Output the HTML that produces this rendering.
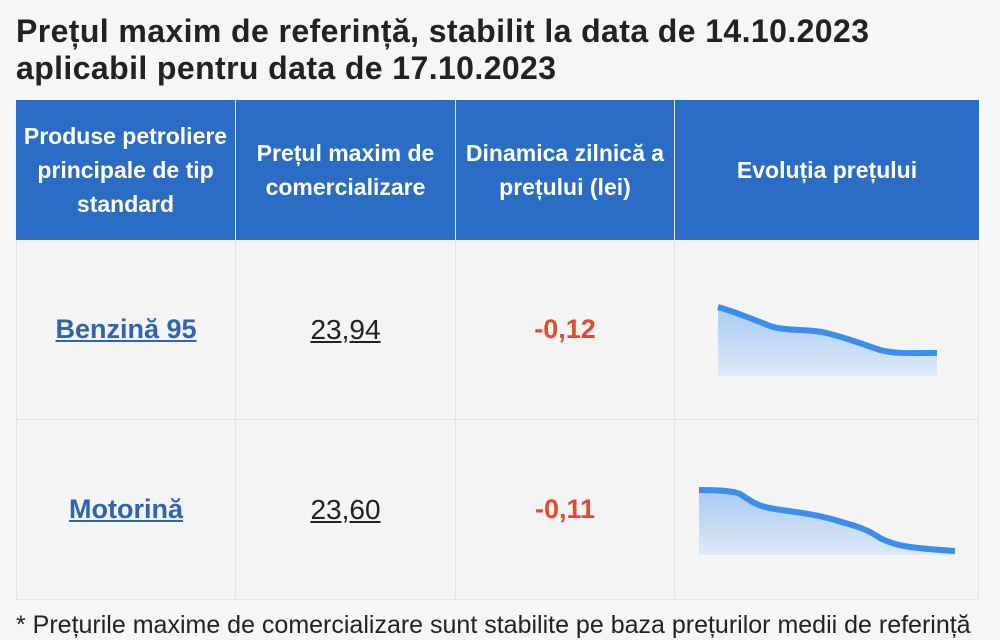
<!DOCTYPE html>
<html><head><meta charset="utf-8"><style>
body{margin:0;width:1000px;height:618px;overflow:hidden;background:#f6f6f6;font-family:"Liberation Sans",Arial,sans-serif;position:relative}
h1{position:absolute;left:16px;top:13px;margin:0;font-size:32px;line-height:37px;color:#222;font-weight:bold;letter-spacing:0.4px;white-space:nowrap}
.c{position:absolute;display:flex;align-items:center;justify-content:center;text-align:center;box-sizing:border-box}
.h{background:#2b6cc4;color:#fff;font-size:23px;font-weight:bold;line-height:34px;border-right:1px solid #dfe6f0}
.b{background:#f4f4f4;border-right:1px solid #e4e4e4;border-bottom:1px solid #e4e4e4}
a{color:#2e64b0;font-weight:bold;font-size:27px;text-decoration:underline}
.p{font-size:28px;color:#222;text-decoration:underline}
.d{font-size:27px;color:#e5492f;font-weight:bold}
.f{position:absolute;left:16px;top:611px;font-size:25px;color:#222;white-space:nowrap}
</style></head><body>
<h1>Prețul maxim de referință, stabilit la data de 14.10.2023<br>aplicabil pentru data de 17.10.2023</h1>
<div class="c h" style="left:16px;top:100px;width:220px;height:140px">Produse petroliere principale de tip standard</div>
<div class="c h" style="left:236px;top:100px;width:220px;height:140px">Prețul maxim de<br>comercializare</div>
<div class="c h" style="left:456px;top:100px;width:219px;height:140px">Dinamica zilnică a<br>prețului (lei)</div>
<div class="c h" style="left:675px;top:100px;width:304px;height:140px;border-right:none">Evoluția prețului</div>

<div class="c b" style="left:16px;top:240px;width:220px;height:180px;border-left:1px solid #e4e4e4"><a>Benzină 95</a></div>
<div class="c b" style="left:236px;top:240px;width:220px;height:180px"><span class="p">23,94</span></div>
<div class="c b" style="left:456px;top:240px;width:219px;height:180px"><span class="d">-0,12</span></div>
<div class="c b" style="left:675px;top:240px;width:304px;height:180px"></div>
<div class="c b" style="left:16px;top:420px;width:220px;height:180px;border-left:1px solid #e4e4e4"><a>Motorină</a></div>
<div class="c b" style="left:236px;top:420px;width:220px;height:180px"><span class="p">23,60</span></div>
<div class="c b" style="left:456px;top:420px;width:219px;height:180px"><span class="d">-0,11</span></div>
<div class="c b" style="left:675px;top:420px;width:304px;height:180px"></div>

<svg style="position:absolute;left:0;top:0" width="1000" height="618">
<defs><linearGradient id="g" x1="0" y1="0" x2="0" y2="1"><stop offset="0" stop-color="#a9cbf2"/><stop offset="1" stop-color="#dde9f6"/></linearGradient></defs>
<path d="M718,307 C735,312 750,318 770,326 C785,331 805,329 822,332 C840,336 860,343 880,350 C895,354 910,353 937,353 L937,376 L718,376Z" fill="url(#g)"/>
<path d="M718,307 C735,312 750,318 770,326 C785,331 805,329 822,332 C840,336 860,343 880,350 C895,354 910,353 937,353" fill="none" stroke="#3a8ef0" stroke-width="6"/>
<path d="M699,490 C715,490 735,491 740,494 C750,500 755,506 775,509 C795,512 815,514 835,520 C850,525 862,526 880,538 C895,546 910,548 955,551 L955,555 L699,555Z" fill="url(#g)"/>
<path d="M699,490 C715,490 735,491 740,494 C750,500 755,506 775,509 C795,512 815,514 835,520 C850,525 862,526 880,538 C895,546 910,548 955,551" fill="none" stroke="#3a8ef0" stroke-width="6"/>
</svg>
<div class="f">* Prețurile maxime de comercializare sunt stabilite pe baza prețurilor medii de referință</div>
</body></html>
